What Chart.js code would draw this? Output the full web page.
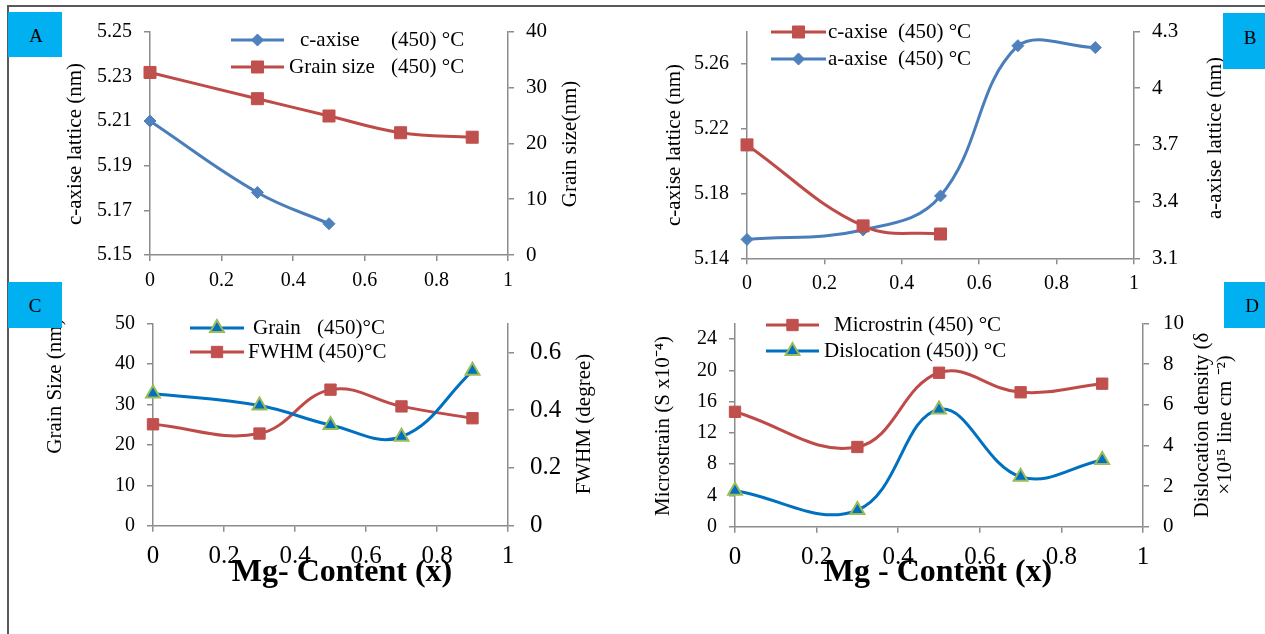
<!DOCTYPE html>
<html><head><meta charset="utf-8">
<script src="https://cdn.jsdelivr.net/npm/chart.js@4.4.1/dist/chart.umd.min.js"></script>
<style>
html,body{margin:0;padding:0;background:#fff;width:1265px;height:634px;overflow:hidden;position:relative}
canvas{position:absolute;left:0;top:0}
#frame{position:absolute;left:7px;top:5px;width:1300px;height:700px;border-top:2px solid #595959;border-left:2px solid #595959}
.tag{position:absolute;background:#00B0F0}
.lt{position:absolute;font-family:'Liberation Serif','Times New Roman',serif;font-size:19px;color:#000;transform:translate(-50%,-50%);line-height:1}
</style></head>
<body>
<div id="frame"></div>
<canvas id="cA" width="1265" height="634"></canvas>
<canvas id="cB" width="1265" height="634"></canvas>
<canvas id="cC" width="1265" height="634"></canvas>
<canvas id="cD" width="1265" height="634"></canvas>
<div class="tag" style="left:8px;top:12px;width:54px;height:45px"></div><div class="lt" style="left:36px;top:35px">A</div>
<div class="tag" style="left:1223px;top:13px;width:42px;height:56px"></div><div class="lt" style="left:1250px;top:37px">B</div>
<div class="tag" style="left:8px;top:282px;width:54px;height:46px"></div><div class="lt" style="left:35px;top:305px">C</div>
<div class="tag" style="left:1224px;top:282px;width:41px;height:46px"></div><div class="lt" style="left:1252px;top:305px">D</div>
<script>
// ---------------- data ----------------
const xShort = [0, 0.3, 0.5];
const xFull = [0, 0.3, 0.5, 0.7, 0.9];
const cAxisA = [5.21, 5.178, 5.164];
const grainA = [32.7, 28.0, 24.9, 21.9, 21.1];
const cAxisB = [5.21, 5.16, 5.155];
const aAxisB = [3.2, 3.25, 3.43, 4.225, 4.215];
const grainC = [32.7, 29.7, 24.9, 22.0, 38.3];
const fwhmC = [0.351, 0.319, 0.471, 0.413, 0.372];
const microD = [14.7, 10.2, 19.7, 17.2, 18.3];
const dislocD = [1.77, 0.82, 5.77, 2.46, 3.28];
const xTicks = [0, 0.2, 0.4, 0.6, 0.8, 1];
const ticksA1 = [5.15, 5.17, 5.19, 5.21, 5.23, 5.25];
const ticksA2 = [0, 10, 20, 30, 40];
const ticksB1 = [5.14, 5.18, 5.22, 5.26];
const ticksB2 = [3.1, 3.4, 3.7, 4, 4.3];
const ticksC1 = [0, 10, 20, 30, 40, 50];
const ticksC2 = [0, 0.2, 0.4, 0.6];
const ticksD1 = [0, 4, 8, 12, 16, 20, 24];
const ticksD2 = [0, 2, 4, 6, 8, 10];
const labA = ['c-axise (450) °C', 'Grain size (450) °C'];
const labB = ['c-axise  (450) °C', 'a-axise  (450) °C'];
const labC = ['Grain (450)°C', 'FWHM (450)°C'];
const labD = ['Microstrin (450) °C', 'Dislocation (450)) °C'];

// ---------------- style ----------------
const FONT = "'Liberation Serif','Times New Roman',serif";
Chart.defaults.font.family = FONT;
Chart.defaults.color = '#000';
const AX = '#8C8C8C';
const BLUE1 = '#4A7EBB', BLUE1M = '#4F81BD';
const RED = '#BE4B48', REDM = '#C0504D';
const BLUE2 = '#0070C0', GREEN = '#9BBB59';
const W = 1265, H = 634, AXW = 80, XH = 60;

const pts = (xs, ys) => xs.map((x, i) => ({x, y: ys[i]}));
const fmt = v => String(Math.round(v * 1000) / 1000);

function xScale(size, pad) {
  return {
    type: 'linear', position: 'bottom', min: 0, max: 1, bounds: 'data',
    afterBuildTicks: s => { s.ticks = xTicks.map(v => ({value: v})); },
    afterFit: s => { s.height = XH; },
    ticks: {font: {size}, color: '#000', padding: pad, maxRotation: 0, autoSkip: false, callback: fmt},
    grid: {display: true, drawOnChartArea: false, drawTicks: true, tickLength: 6, color: AX, lineWidth: 1.5},
    border: {display: true, color: AX, width: 1.5}
  };
}
function yScale(pos, min, max, arr, size, pad) {
  return {
    type: 'linear', position: pos, min, max, bounds: 'data',
    afterBuildTicks: s => { s.ticks = arr.map(v => ({value: v})); },
    afterFit: s => { s.width = AXW; },
    ticks: {font: {size}, color: '#000', padding: pad, autoSkip: false, callback: fmt},
    grid: {display: true, drawOnChartArea: false, drawTicks: true, tickLength: 6, color: AX, lineWidth: 1.5},
    border: {display: true, color: AX, width: 1.5}
  };
}
function pad(l, r, t, b) {
  return {left: l - AXW, right: W - r - AXW, top: t, bottom: H - b - XH};
}
function ds(label, data, axis, color, mfill, mborder, style, radius, bw) {
  return {label, data, yAxisID: axis, borderColor: color, backgroundColor: mfill, borderWidth: 3,
    pointStyle: style, pointRadius: radius, pointBackgroundColor: mfill, pointBorderColor: mborder,
    pointBorderWidth: bw, tension: 0.4, clip: false, fill: false};
}

function drawMarker(ctx, style, x, y, r, fill, stroke, bw) {
  ctx.beginPath();
  if (style === 'rectRot') {
    ctx.moveTo(x, y - r); ctx.lineTo(x + r, y); ctx.lineTo(x, y + r); ctx.lineTo(x - r, y);
  } else if (style === 'rect') {
    const s = Math.SQRT1_2 * r; ctx.rect(x - s, y - s, 2 * s, 2 * s);
  } else if (style === 'triangle') {
    for (let k = 0; k < 3; k++) {
      const a = k * 2 * Math.PI / 3;
      const px = x + Math.sin(a) * r, py = y - Math.cos(a) * r;
      k ? ctx.lineTo(px, py) : ctx.moveTo(px, py);
    }
  }
  ctx.closePath();
  ctx.fillStyle = fill; ctx.fill();
  if (bw) { ctx.lineWidth = bw; ctx.strokeStyle = stroke; ctx.stroke(); }
}

const decor = {
  id: 'decor',
  afterDraw(chart, args, opts) {
    const ctx = chart.ctx;
    ctx.save();
    (opts.titles || []).forEach(t => {
      ctx.save();
      ctx.translate(t.x, t.y);
      if (t.rot) ctx.rotate(t.rot);
      ctx.font = (t.bold ? 'bold ' : '') + t.size + 'px ' + FONT;
      ctx.fillStyle = '#000'; ctx.textAlign = 'center'; ctx.textBaseline = 'middle';
      ctx.fillText(t.text, 0, 0);
      ctx.restore();
    });
    (opts.legend || []).forEach(it => {
      const d = chart.data.datasets[it.ds];
      ctx.strokeStyle = d.borderColor; ctx.lineWidth = d.borderWidth;
      ctx.beginPath(); ctx.moveTo(it.x0, it.y); ctx.lineTo(it.x1, it.y); ctx.stroke();
      drawMarker(ctx, d.pointStyle, (it.x0 + it.x1) / 2, it.y, d.pointRadius, d.pointBackgroundColor, d.pointBorderColor, d.pointBorderWidth);
      ctx.font = '21px ' + FONT; ctx.fillStyle = '#000'; ctx.textAlign = 'left'; ctx.textBaseline = 'middle';
      const lab = d.label;
      if (it.sx) {
        const i = lab.indexOf('(');
        ctx.fillText(lab.slice(0, i).trim(), it.tx, it.y);
        ctx.fillText(lab.slice(i), it.sx, it.y);
      } else {
        ctx.fillText(lab, it.tx, it.y);
      }
    });
    ctx.restore();
  }
};
Chart.register(decor);

function make(id, datasets, padding, scales, decorOpts) {
  new Chart(document.getElementById(id), {
    type: 'line',
    data: {datasets},
    options: {
      responsive: false, animation: false, events: [],
      layout: {padding},
      plugins: {legend: {display: false}, tooltip: {enabled: false}, decor: decorOpts},
      scales
    }
  });
}
const UP = -Math.PI / 2;

// ---------- A ----------
make('cA', [
  ds(labA[0], pts(xShort, cAxisA), 'y', BLUE1, BLUE1M, BLUE1M, 'rectRot', 6, 1),
  ds(labA[1], pts(xFull, grainA), 'y2', RED, REDM, REDM, 'rect', 8.5, 1)
], pad(150, 508, 31.7, 255), {
  x: xScale(20, 7.5),
  y: yScale('left', 5.15, 5.25, ticksA1, 20, 12),
  y2: yScale('right', 0, 40, ticksA2, 21, 12)
}, {
  titles: [
    {text: 'c-axise lattice (nm)', x: 75, y: 144, rot: UP, size: 21},
    {text: 'Grain size(nm)', x: 570, y: 144, rot: UP, size: 21}
  ],
  legend: [
    {ds: 0, x0: 231, x1: 284, y: 40, tx: 300, sx: 391},
    {ds: 1, x0: 231, x1: 284, y: 67, tx: 289, sx: 391}
  ]
});

// ---------- B ----------
make('cB', [
  ds(labB[0], pts(xShort, cAxisB), 'y', RED, REDM, REDM, 'rect', 8.5, 1),
  ds(labB[1], pts(xFull, aAxisB), 'y2', BLUE1, BLUE1M, BLUE1M, 'rectRot', 6, 1)
], pad(747, 1134, 31.5, 258.3), {
  x: xScale(20, 7.5),
  y: yScale('left', 5.14, 5.28, ticksB1, 20, 12),
  y2: yScale('right', 3.1, 4.3, ticksB2, 21, 12)
}, {
  titles: [
    {text: 'c-axise lattice (nm)', x: 674, y: 145, rot: UP, size: 21},
    {text: 'a-axise lattice (nm)', x: 1215, y: 138, rot: UP, size: 21}
  ],
  legend: [
    {ds: 0, x0: 771, x1: 826, y: 32, tx: 828},
    {ds: 1, x0: 771, x1: 826, y: 59, tx: 828}
  ]
});

// ---------- C ----------
make('cC', [
  ds(labC[0], pts(xFull, grainC), 'y', BLUE2, BLUE2, GREEN, 'triangle', 8, 2),
  ds(labC[1], pts(xFull, fwhmC), 'y2', RED, REDM, REDM, 'rect', 8, 1)
], pad(153, 508, 323.5, 525.7), {
  x: xScale(25, 9.8),
  y: yScale('left', 0, 50, ticksC1, 20, 12),
  y2: yScale('right', 0, 0.7, ticksC2, 25, 16)
}, {
  titles: [
    {text: 'Grain Size (nm)', x: 55, y: 386, rot: UP, size: 21},
    {text: 'FWHM (degree)', x: 584, y: 424, rot: UP, size: 21},
    {text: 'Mg- Content (x)', x: 342, y: 572.5, size: 32, bold: true}
  ],
  legend: [
    {ds: 0, x0: 190, x1: 244, y: 328, tx: 253, sx: 317},
    {ds: 1, x0: 190, x1: 244, y: 352, tx: 248}
  ]
});

// ---------- D ----------
make('cD', [
  ds(labD[0], pts(xFull, microD), 'y', RED, REDM, REDM, 'rect', 8, 1),
  ds(labD[1], pts(xFull, dislocD), 'y2', BLUE2, BLUE2, GREEN, 'triangle', 8, 2)
], pad(735, 1143, 323.5, 526.7), {
  x: xScale(25, 9.3),
  y: yScale('left', 0, 26, ticksD1, 20, 12),
  y2: yScale('right', 0, 10, ticksD2, 21, 14)
}, {
  titles: [
    {text: 'Microstrain (S x10\u207B\u2074)', x: 663, y: 426, rot: UP, size: 21},
    {text: 'Dislocation density (\u03B4', x: 1202, y: 425, rot: UP, size: 21},
    {text: '\u00D710\u00B9\u2075 line cm \u207B\u00B2)', x: 1225, y: 425, rot: UP, size: 21},
    {text: 'Mg - Content (x)', x: 938, y: 572.5, size: 32, bold: true}
  ],
  legend: [
    {ds: 0, x0: 766, x1: 819, y: 325, tx: 834},
    {ds: 1, x0: 766, x1: 819, y: 351, tx: 824}
  ]
});
</script>
</body></html>
